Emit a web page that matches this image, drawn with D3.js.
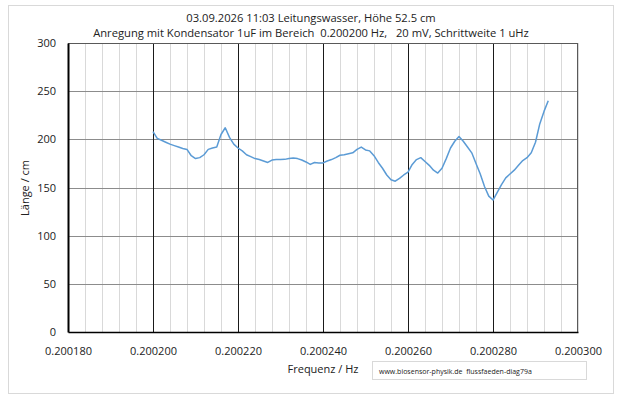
<!DOCTYPE html>
<html><head><meta charset="utf-8">
<script src="https://cdn.jsdelivr.net/npm/d3@7"></script>
<style>body{margin:0;background:#fff;} svg{display:block;font-family:"Open Sans","Noto Sans",sans-serif;} text{white-space:pre;}</style>
</head><body>
<script>
const titleLines = ["03.09.2026 11:03 Leitungswasser, Höhe 52.5 cm",
  "Anregung mit Kondensator 1uF im Bereich  0.200200 Hz,   20 mV, Schrittweite 1 uHz"];
const xLabel = "Frequenz / Hz";
const yLabel = "Länge / cm";
const note = "www.biosensor-physik.de  flussfaeden-diag79a";
const xStart = 0.200200, xStep = 0.000001;
const lengths = [208,201,199,197,195,193.5,192,190.5,189.5,183,
  180,181,184,189.6,191,192,205,212,202,195,
  191,188,184,182,180,179,177.5,176,178.5,179,
  179,179.2,180,180.6,180,178.5,176.5,174,176,175.5,
  175.5,177.5,179,181,183.5,184,185,186,189.5,192,
  189,188,183,176,170,163,158,156.5,159.5,163,
  166,174,179,181,177,173,168,165,170,180,
  191,198,203,198,192,186,175,164,151,141,
  137,145,153,160,164,168,173,178,181,186,
  197,216,229,240];
const xTicks = [0.200180,0.200200,0.200220,0.200240,0.200260,0.200280,0.200300];
const yTicks = [0,50,100,150,200,250,300];

const W=620,H=402;
const svg=d3.select("body").append("svg").attr("width",W).attr("height",H);
svg.append("rect").attr("x",8.5).attr("y",5.5).attr("width",605).attr("height",388)
  .attr("fill","#fff").attr("stroke","#d9d9d9");
const L=68,R=578,T=43,B=332;
const x=d3.scaleLinear().domain([0.200180,0.200300]).range([L,R]);
const y=d3.scaleLinear().domain([0,300]).range([B,T]);

// minor vertical grid
const minor=d3.range(0,31).map(k=>0.200180+k*0.000004);
svg.append("g").selectAll("line").data(minor).join("line")
  .attr("x1",d=>Math.round(x(d))+0.5).attr("x2",d=>Math.round(x(d))+0.5)
  .attr("y1",T).attr("y2",B).attr("stroke","#d9d9d9").attr("stroke-width",1);
// horizontal grid
svg.append("g").selectAll("line").data(yTicks.slice(1,-1)).join("line")
  .attr("x1",L).attr("x2",R).attr("y1",d=>Math.round(y(d))+0.5).attr("y2",d=>Math.round(y(d))+0.5)
  .attr("stroke","#8c8c8c").attr("stroke-width",1);
// major vertical grid
svg.append("g").selectAll("line").data(xTicks.slice(1,-1)).join("line")
  .attr("x1",d=>Math.round(x(d))+0.5).attr("x2",d=>Math.round(x(d))+0.5)
  .attr("y1",T).attr("y2",B).attr("stroke","#1a1a1a").attr("stroke-width",1);
// border
svg.append("line").attr("x1",L).attr("x2",R).attr("y1",T+0.5).attr("y2",T+0.5).attr("stroke","#595959");
svg.append("line").attr("x1",R-0.5).attr("x2",R-0.5).attr("y1",T).attr("y2",B).attr("stroke","#595959");

// axes
const xAxis=svg.append("g").attr("transform",`translate(0,${B})`)
  .call(d3.axisBottom(x).tickValues(xTicks).tickSize(0).tickFormat(d3.format(".6f")));
xAxis.select(".domain").attr("stroke","#000").attr("stroke-width",1.5);
xAxis.selectAll("text").attr("dy",0).attr("y",23).attr("font-size","11px").attr("fill","#222")
  .attr("font-family","'Open Sans',sans-serif");
const yAxis=svg.append("g").attr("transform",`translate(${L},0)`)
  .call(d3.axisLeft(y).tickValues(yTicks).tickSize(0));
yAxis.select(".domain").attr("stroke","#000").attr("stroke-width",2);
yAxis.selectAll("text").attr("x",-12).attr("font-size","11px").attr("fill","#222")
  .attr("font-family","'Open Sans',sans-serif");

// line
const data=lengths.map((v,i)=>({f:xStart+i*xStep,v}));
svg.append("path").datum(data).attr("fill","none").attr("stroke","#5b9bd5").attr("stroke-width",1.5)
  .attr("stroke-linejoin","round")
  .attr("d",d3.line().x(d=>x(d.f)).y(d=>y(d.v)));

// titles
svg.selectAll("text.title").data(titleLines).join("text").attr("class","title")
  .attr("x",311).attr("y",(d,i)=>22+i*15).attr("text-anchor","middle")
  .attr("font-size","11.2px").attr("fill","#222").text(d=>d);
svg.append("text").attr("x",323).attr("y",373).attr("text-anchor","middle")
  .attr("font-size","11px").attr("fill","#222").text(xLabel);
svg.append("text").attr("transform","translate(29,188) rotate(-90)").attr("text-anchor","middle")
  .attr("font-size","11px").attr("fill","#222").text(yLabel);
svg.append("rect").attr("x",372.5).attr("y",361.5).attr("width",214).attr("height",18)
  .attr("fill","#fff").attr("stroke","#d9d9d9");
svg.append("text").attr("x",379).attr("y",374).attr("font-size","7px").attr("fill","#222").text(note);
</script>
</body></html>
